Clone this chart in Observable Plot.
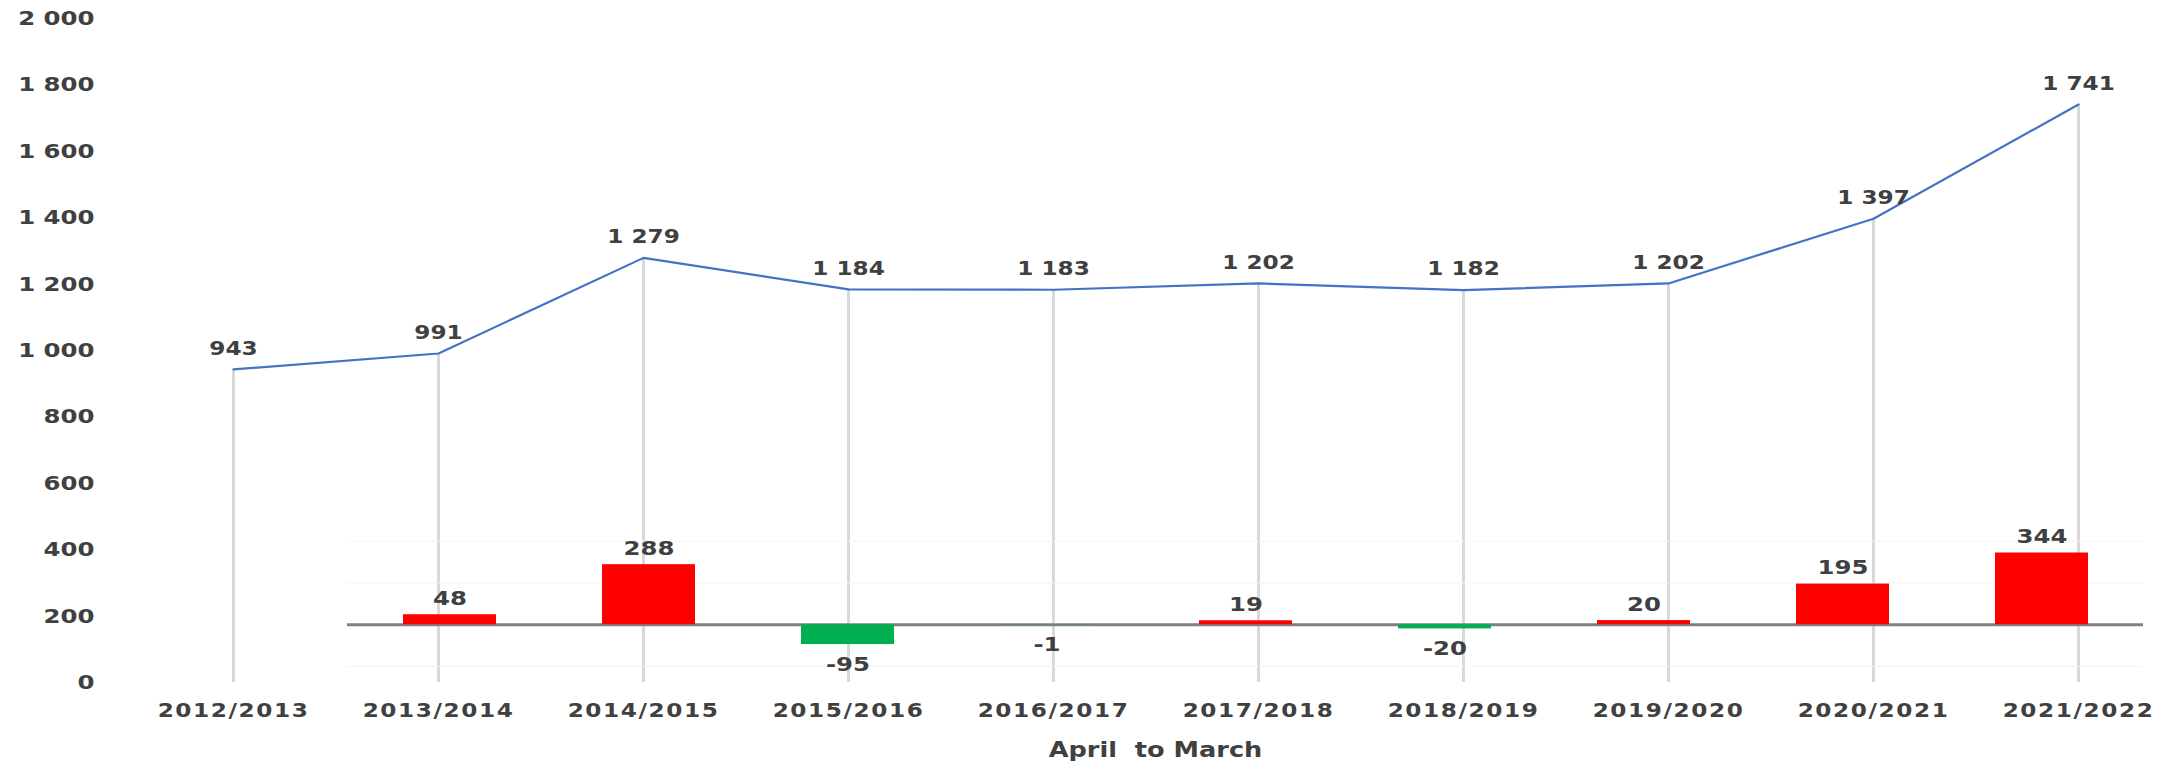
<!DOCTYPE html>
<html>
<head>
<meta charset="utf-8">
<script src="https://cdn.jsdelivr.net/npm/d3@7"></script>
<script src="https://cdn.jsdelivr.net/npm/@observablehq/plot@0.6"></script>
<style>
  html, body { margin: 0; padding: 0; background: #ffffff; }
  #chart { position: relative; width: 2178px; height: 762px; }
  #chart svg { position: absolute; left: 0; top: 0; }
  #chart g[aria-label="x-axis tick label"] text { letter-spacing: 1.3px; }
</style>
</head>
<body>
<div id="chart"></div>
<script>
// ---- data ----
const years = ["2012/2013", "2013/2014", "2014/2015", "2015/2016", "2016/2017",
               "2017/2018", "2018/2019", "2019/2020", "2020/2021", "2021/2022"];
const totals = [943, 991, 1279, 1184, 1183, 1202, 1182, 1202, 1397, 1741];
const changeYears = ["2013/2014", "2014/2015", "2015/2016", "2016/2017", "2017/2018",
                     "2018/2019", "2019/2020", "2020/2021", "2021/2022"];
const changes = [48, 288, -95, -1, 19, -20, 20, 195, 344];
const yTicks = [0, 200, 400, 600, 800, 1000, 1200, 1400, 1600, 1800, 2000];
const changeGrid = [-200, 200, 400];
const xTitle = "April\u00a0 to March";

const lineData = years.map((y, i) => ({year: y, value: totals[i]}));
const barData = changeYears.map((y, i) => ({year: y, value: changes[i]}));

const fmt = d3.formatLocale({decimal: ".", thousands: " ", grouping: [3], currency: ["", ""], minus: "-"}).format(",");
const TXT = "#404040";
const W = 2178, H = 762;
const common = {width: W, height: H, marginTop: 18, marginBottom: 80};
const baseStyle = {fontFamily: "'DejaVu Sans', Verdana, sans-serif", fontWeight: "bold", color: TXT, background: "transparent", overflow: "visible"};

// stretch glyphs horizontally, as in the (wide) reference typography
function stretch(svg, s) {
  svg.querySelectorAll("text").forEach(t => {
    const tr = t.getAttribute("transform") || "";
    const x = t.getAttribute("x");
    let extra = "";
    if (x !== null && !isNaN(+x)) {
      extra = ` translate(${+x},0)`;
      t.removeAttribute("x");
    }
    t.setAttribute("transform", `${tr}${extra} scale(${s},1)`);
  });
  return svg;
}

// ---- chart 1: totals line, drop lines, axes ----
const lineChart = Plot.plot({
  ...common,
  marginLeft: 232,
  marginRight: 100,
  style: baseStyle,
  x: {type: "point", domain: years, padding: 0},
  y: {domain: [0, 2000]},
  marks: [
    Plot.ruleX(lineData, {x: "year", y1: 0, y2: "value", stroke: "#d9d9d9", strokeWidth: 3}),
    Plot.line(lineData, {x: "year", y: "value", stroke: "#4472C4", strokeWidth: 2.2}),
    Plot.text(lineData, {x: "year", y: "value", text: d => fmt(d.value), dy: -21, fontSize: 19, fill: TXT}),
    Plot.axisY({ticks: yTicks, tickFormat: fmt, tickSize: 0, tickPadding: 138, fontSize: 20, label: null}),
    Plot.axisX({tickSize: 0, tickPadding: 21, fontSize: 19, label: null}),
    Plot.text([xTitle], {frameAnchor: "bottom", dy: 74, fontSize: 21, fill: TXT})
  ]
});
stretch(lineChart, 1.22);

// ---- chart 2: year-on-year change bars (secondary scale) ----
const barChart = Plot.plot({
  ...common,
  marginLeft: 347,
  marginRight: 35,
  style: baseStyle,
  x: {type: "band", domain: changeYears, paddingInner: 0.534, paddingOuter: 0.267, axis: null},
  y: {domain: [-277, 2907], axis: null},
  marks: [
    Plot.ruleY(changeGrid, {stroke: "#f5f5f5", strokeWidth: 1}),
    Plot.ruleY([0], {stroke: "#808080", strokeWidth: 3}),
    Plot.barY(barData, {x: "year", y: "value", fill: d => d.value >= 0 ? "#FF0000" : "#00B050",
      style: "filter: drop-shadow(1px 2px 1.5px rgba(0,0,0,0.45))"}),
    Plot.text(barData.filter(d => d.value >= 0), {x: "year", y: "value", text: d => fmt(d.value), dy: -16, fontSize: 20, fill: TXT}),
    Plot.text(barData.filter(d => d.value < 0), {x: "year", y: "value", text: d => fmt(d.value), dy: 20, fontSize: 20, fill: TXT})
  ]
});
stretch(barChart, 1.22);

const root = document.getElementById("chart");
root.appendChild(lineChart);
root.appendChild(barChart);
</script>
</body>
</html>
